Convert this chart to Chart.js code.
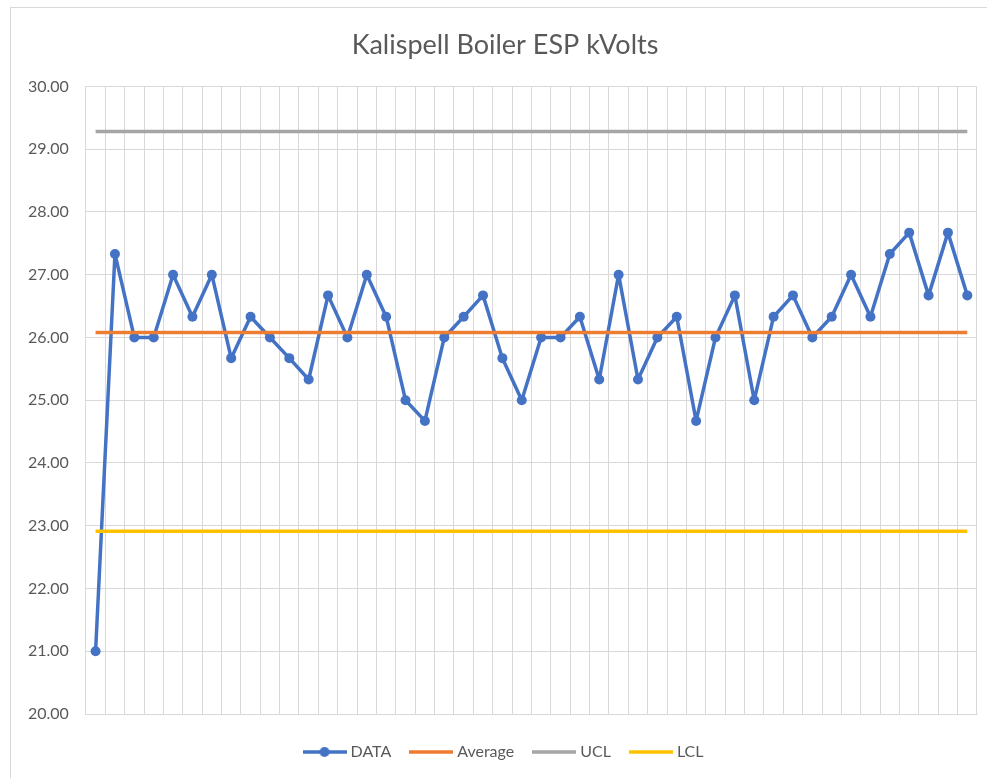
<!DOCTYPE html>
<html>
	<head>
		<meta charset="utf-8">
		<script src="https://cdn.jsdelivr.net/npm/chart.js@4/dist/chart.umd.min.js"></script>
		<title>Kalispell Boiler ESP kVolts</title>
		<style>
			html, body { margin: 0; padding: 0; background: #fff; overflow: hidden; }
			#box { position: absolute; left: 10px; top: 7px; width: 988px; height: 790px; border: 1px solid #d9d9d9; box-sizing: border-box; }
			#box canvas { position: absolute; left: 0; top: 0; }
		</style>
	</head>
	<body>
		<div id="box"><canvas id="myChart" width="988" height="790"></canvas></div>
		<script>
			// one sample per category, no axis labels shown
			var labels = [];
			for (var i = 1; i <= 46; i++) labels.push(String(i));

			var kvData = [21.00, 27.33, 26.00, 26.00, 27.00, 26.33, 27.00, 25.67, 26.33, 26.00,
				25.67, 25.33, 26.67, 26.00, 27.00, 26.33, 25.00, 24.67, 26.00, 26.33,
				26.67, 25.67, 25.00, 26.00, 26.00, 26.33, 25.33, 27.00, 25.33, 26.00,
				26.33, 24.67, 26.00, 26.67, 25.00, 26.33, 26.67, 26.00, 26.33, 27.00,
				26.33, 27.33, 27.67, 26.67, 27.67, 26.67];
			var averageValue = 26.08;
			var uclValue = 29.28;
			var lclValue = 22.91;

			var yTicks = [20, 21, 22, 23, 24, 25, 26, 27, 28, 29, 30];

			var avgLine = labels.map(function () { return averageValue; });
			var uclLine = labels.map(function () { return uclValue; });
			var lclLine = labels.map(function () { return lclValue; });

			function legendIcon(color, dot) {
				var c = document.createElement('canvas');
				c.width = 44;
				c.height = 12;
				var g = c.getContext('2d');
				g.strokeStyle = color;
				g.lineWidth = 3.5;
				g.beginPath();
				g.moveTo(0, 6);
				g.lineTo(44, 6);
				g.stroke();
				if (dot) {
					g.fillStyle = color;
					g.beginPath();
					g.arc(22, 6, 5, 0, Math.PI * 2);
					g.fill();
				}
				return c;
			}

			var icons = [
				legendIcon('#4472c4', true),
				legendIcon('#ed7d31', false),
				legendIcon('#a5a5a5', false),
				legendIcon('#ffc000', false)
			];

			var grey = '#595959';
			var font = "Lato, 'Open Sans', sans-serif";

			var chart = new Chart(document.getElementById('myChart'), {
				type: 'line',
				data: {
					labels: labels,
					datasets: [{
						label: 'DATA',
						data: kvData,
						borderColor: '#4472c4',
						backgroundColor: '#4472c4',
						borderWidth: 3.5,
						borderJoinStyle: 'round',
						borderCapStyle: 'round',
						pointRadius: 5,
						pointBorderWidth: 0,
						tension: 0,
						order: 4
					}, {
						label: 'Average',
						data: avgLine,
						borderColor: '#ed7d31',
						backgroundColor: '#ed7d31',
						borderWidth: 3.5,
						pointRadius: 0,
						order: 3
					}, {
						label: 'UCL',
						data: uclLine,
						borderColor: '#a5a5a5',
						backgroundColor: '#a5a5a5',
						borderWidth: 3.5,
						pointRadius: 0,
						order: 2
					}, {
						label: 'LCL',
						data: lclLine,
						borderColor: '#ffc000',
						backgroundColor: '#ffc000',
						borderWidth: 3.5,
						pointRadius: 0,
						order: 1
					}]
				},
				options: {
					responsive: false,
					animation: false,
					layout: { padding: { left: 0, right: 0, top: 0, bottom: 28 } },
					scales: {
						x: {
							type: 'category',
							offset: true,
							grid: { offset: true, color: '#d9d9d9', drawTicks: false },
							border: { color: '#d9d9d9' },
							ticks: { display: false },
							afterFit: function (axis) { axis.height = 8; }
						},
						y: {
							min: 20,
							max: 30,
							afterBuildTicks: function (axis) {
								axis.ticks = yTicks.map(function (v) { return { value: v }; });
							},
							grid: { color: '#d9d9d9', drawTicks: false },
							border: { color: '#d9d9d9' },
							ticks: {
								padding: 17,
								color: grey,
								font: { family: font, size: 16 },
								callback: function (v) { return Number(v).toFixed(2); }
							}
						},
						// empty right-hand axis only keeps the plot clear of the right edge
						yRight: {
							position: 'right',
							min: 20,
							max: 30,
							grid: { display: false, drawTicks: false },
							border: { display: false },
							ticks: { display: false },
							afterFit: function (axis) { axis.width = 22; }
						}
					},
					plugins: {
						title: {
							display: true,
							text: 'Kalispell Boiler ESP kVolts',
							color: grey,
							font: { family: font, size: 27, weight: 'normal' },
							padding: { top: 21, bottom: 25 }
						},
						legend: {
							position: 'bottom',
							labels: {
								usePointStyle: true,
								pointStyleWidth: 36,
								padding: 22,
								color: grey,
								font: { family: font, size: 16 },
								sort: function (a, b) { return a.datasetIndex - b.datasetIndex; },
								generateLabels: function (ch) {
									var items = Chart.defaults.plugins.legend.labels.generateLabels(ch);
									items.forEach(function (it) { it.pointStyle = icons[it.datasetIndex]; });
									return items;
								}
							}
						},
						tooltip: { enabled: false }
					}
				}
			});
		</script>
	</body>
</html>
